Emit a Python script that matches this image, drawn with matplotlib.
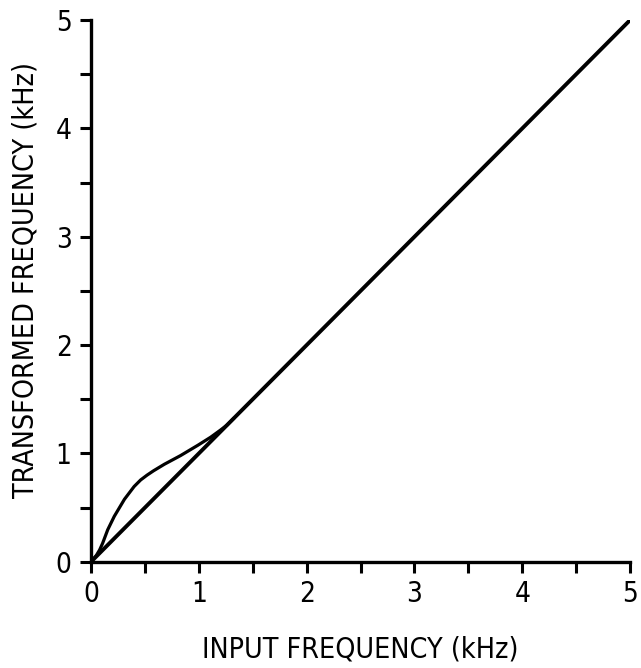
import matplotlib
matplotlib.use("Agg")
import matplotlib.pyplot as plt

# Data
line_x = [0.0, 5.0]
line_y = [0.0, 5.0]
curve_x = [0.0, 0.05, 0.08, 0.108, 0.155, 0.216, 0.31, 0.40, 0.46, 0.52, 0.58, 0.68, 0.83, 0.99, 1.11, 1.20, 1.26, 1.32]
curve_y = [0.0, 0.06, 0.11, 0.172, 0.296, 0.42, 0.577, 0.695, 0.755, 0.80, 0.84, 0.90, 0.98, 1.075, 1.15, 1.215, 1.26, 1.32]
major_ticks = [0, 1, 2, 3, 4, 5]
minor_ticks = [0.5, 1.5, 2.5, 3.5, 4.5]

plt.rcParams['font.family'] = ['DejaVu Sans']
plt.rcParams['font.stretch'] = 'condensed'

fig = plt.figure(figsize=(6.41, 6.68), dpi=100)
ax = fig.add_axes([0.142, 0.159, 0.841, 0.811])

ax.plot(line_x, line_y, color='black', lw=2.8, solid_capstyle='round')
ax.plot(curve_x, curve_y, color='black', lw=2.3, solid_joinstyle='round')

ax.set_xlim(0, 5)
ax.set_ylim(0, 5)
ax.spines['top'].set_visible(False)
ax.spines['right'].set_visible(False)
for s in ('left', 'bottom'):
    ax.spines[s].set_linewidth(2.4)

ax.set_xticks(major_ticks)
ax.set_yticks(major_ticks)
ax.set_xticks(minor_ticks, minor=True)
ax.set_yticks(minor_ticks, minor=True)
ax.set_xticklabels([str(t) for t in major_ticks])
ax.set_yticklabels([str(t) for t in major_ticks])
ax.tick_params(which='both', direction='out', length=8, width=2.2, labelsize=20, pad=6)
ax.tick_params(axis='x', pad=5)
ax.tick_params(which='minor', labelsize=0)

ax.set_xlabel('INPUT FREQUENCY (kHz)', fontsize=20.5, labelpad=20)
ax.set_ylabel('TRANSFORMED FREQUENCY (kHz)', fontsize=20.5)
ax.yaxis.set_label_coords(-0.095, 0.52)

fig.savefig('out.png', dpi=100)
